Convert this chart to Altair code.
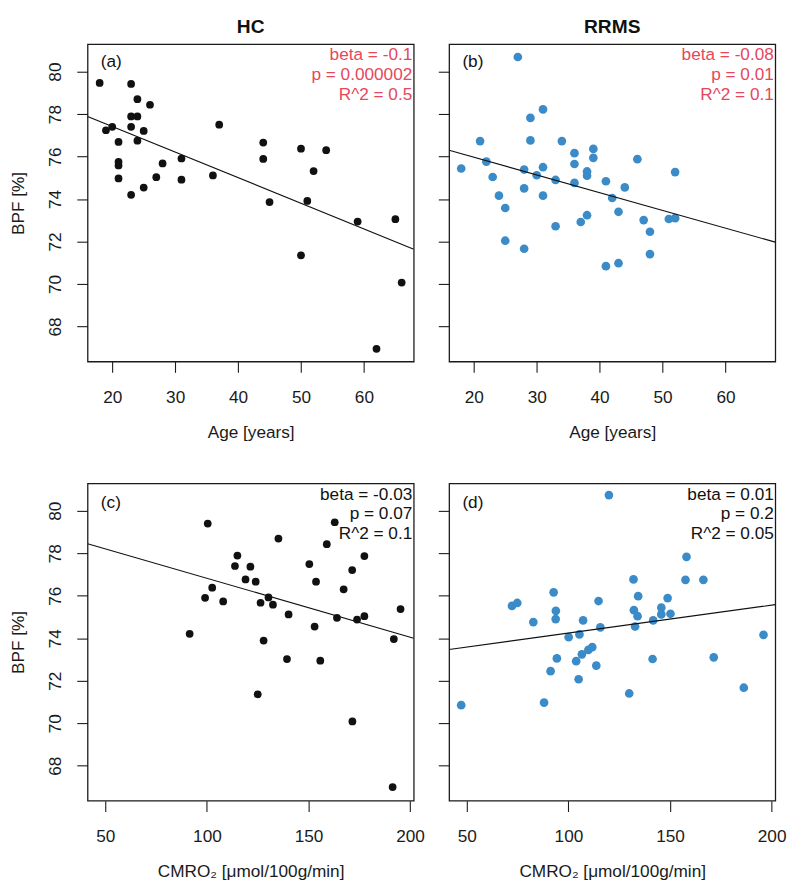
import altair as alt
import pandas as pd

FONT = "Liberation Sans, Arial, DejaVu Sans, sans-serif"

# ---------------- data ----------------
# (a) HC: Age vs BPF
hc_age = [18, 23, 24, 26, 23, 24, 23, 19, 20, 25, 24, 21, 37, 21, 21, 28, 31, 21, 27, 31,
          36, 25, 23, 44, 44, 50, 54, 52, 45, 51, 59, 50, 62, 65, 66]
hc_bpf_a = [79.47, 79.42, 78.70, 78.44, 77.89, 77.89, 77.40, 77.24, 77.40, 77.21, 76.75, 76.69,
            77.50, 75.75, 75.58, 75.68, 75.91, 74.97, 75.03, 74.91, 75.11, 74.54, 74.20, 76.66,
            75.89, 76.37, 76.30, 75.32, 73.86, 73.91, 72.94, 71.35, 66.95, 73.05, 70.07]

# (b) RRMS: Age vs BPF
rr_age = [27, 31, 29, 21, 29, 34, 36, 39, 39, 36, 18, 22, 31, 28, 30, 38, 38, 23, 33, 36, 41,
          28, 24, 31, 25, 38, 37, 33, 25, 28, 41, 42, 44, 43, 46, 52, 47, 48, 51, 52, 48, 43]
rr_bpf_b = [80.69, 78.22, 77.82, 76.73, 76.76, 76.73, 76.16, 76.36, 75.94, 75.65, 75.44, 75.76,
            75.50, 75.39, 75.12, 75.30, 75.10, 75.04, 74.90, 74.76, 74.84, 74.50, 74.16, 74.16,
            73.58, 73.24, 72.92, 72.72, 72.04, 71.66, 70.84, 74.05, 74.55, 73.40, 75.88, 75.27,
            73.01, 72.46, 73.06, 73.10, 71.41, 70.98]

# (c) HC: CMRO2 vs BPF
hc_cmro2 = [100.4, 115.0, 113.8, 102.6, 99.1, 108.0, 91.5, 121.4, 135.2, 119.0, 124.0, 130.3,
            126.4, 132.5, 140.2, 127.9, 139.4, 125.0, 150.4, 153.7, 159.0, 162.9, 153.0, 155.8,
            164.0, 167.3, 171.5, 177.5, 173.9, 177.5, 171.6, 195.3, 192.0, 191.4]
hc_bpf_c = [79.40, 77.89, 77.40, 76.38, 75.90, 75.73, 74.21, 77.37, 78.69, 76.77, 76.66, 75.92,
            75.67, 75.58, 75.12, 73.89, 73.02, 71.36, 77.49, 76.66, 78.43, 79.46, 74.55, 72.94,
            74.96, 76.30, 77.21, 77.87, 74.88, 75.04, 70.08, 75.37, 73.96, 66.99]

# (d) RRMS: CMRO2 vs BPF
rr_cmro2 = [119.9, 47.2, 72.2, 74.8, 82.7, 92.7, 93.8, 93.7, 94.3, 91.2, 88.0, 100.1, 105.4,
            107.2, 114.8, 115.7, 103.8, 105.0, 106.6, 109.8, 111.7, 113.7, 132.0, 134.3, 132.2,
            134.0, 132.8, 141.7, 145.7, 145.7, 148.8, 150.2, 158.1, 157.6, 166.4, 141.4, 129.9,
            171.5, 186.3, 196.0]
rr_bpf_d = [80.74, 70.85, 75.52, 75.66, 74.76, 76.16, 75.29, 74.90, 73.05, 72.45, 70.97, 74.05,
            74.18, 74.84, 75.75, 74.51, 72.92, 72.07, 73.24, 73.45, 73.58, 72.71, 76.77, 75.98,
            75.32, 75.04, 74.55, 74.84, 75.44, 75.12, 75.89, 75.15, 77.83, 76.75, 76.75, 73.02,
            71.40, 73.10, 71.67, 74.16]

# fitted lines (end points read at the plot edges)
fit_age_x = [16.08, 67.92]
fit_a_y = [77.89, 71.64]
fit_b_y = [76.30, 71.97]
fit_cmro2_x = [41.26, 201.8]
fit_c_y = [78.45, 74.00]
fit_d_y = [73.47, 75.58]

ann_a = ["beta = -0.1", "p = 0.000002", "R^2 = 0.5"]
ann_b = ["beta = -0.08", "p = 0.01", "R^2 = 0.1"]
ann_c = ["beta = -0.03", "p = 0.07", "R^2 = 0.1"]
ann_d = ["beta = 0.01", "p = 0.2", "R^2 = 0.05"]

age_ticks = [20, 30, 40, 50, 60]
cmro2_ticks = [50, 100, 150, 200]
bpf_ticks = [68, 70, 72, 74, 76, 78, 80]

age_domain = [16.08, 67.92]
cmro2_domain = [41.26, 201.8]
bpf_domain = [66.35, 81.29]

# ---------------- style ----------------
W, H = 332, 323
FS = 17.5
BLACK = "#111111"
BLUE = "#3a8bc7"
RED = "#e6475b"


def panel(xs, ys, color, size, xdom, xticks, xtitle, fx, fy, ann, ann_color,
          letter, letter_y, show_y_labels, title_text=None):
    df = pd.DataFrame({"x": xs, "y": ys})
    xsc = alt.Scale(domain=xdom, nice=False, zero=False)
    ysc = alt.Scale(domain=bpf_domain, nice=False, zero=False)
    xax = alt.Axis(values=xticks, title=xtitle, labelPadding=17, titlePadding=18)
    if show_y_labels:
        yax = alt.Axis(values=bpf_ticks, title="BPF [%]", labelAngle=270, labelAlign="center",
                       labelBaseline="alphabetic", labelPadding=16.5, titlePadding=20)
    else:
        yax = alt.Axis(values=bpf_ticks, title=None, labels=False)

    pts = alt.Chart(df).mark_circle(size=size, opacity=1, color=color).encode(
        x=alt.X("x:Q", scale=xsc, axis=xax),
        y=alt.Y("y:Q", scale=ysc, axis=yax),
    )
    fdf = pd.DataFrame({"x": fx, "y": fy})
    line = alt.Chart(fdf).mark_line(color=BLACK, strokeWidth=1.2, clip=True).encode(
        x=alt.X("x:Q", scale=xsc), y=alt.Y("y:Q", scale=ysc)
    )
    adf = pd.DataFrame({"t": ["\n".join(ann)]})
    txt = alt.Chart(adf).mark_text(
        align="right", baseline="top", fontSize=FS, font=FONT, color=ann_color,
        lineBreak="\n", lineHeight=20
    ).encode(x=alt.value(W - 1.5), y=alt.value(2.5), text="t:N")
    ldf = pd.DataFrame({"t": [letter]})
    lab = alt.Chart(ldf).mark_text(
        align="left", baseline="alphabetic", fontSize=FS, font=FONT, color=BLACK
    ).encode(x=alt.value(13.5), y=alt.value(letter_y), text="t:N")
    ch = alt.layer(pts, line, txt, lab).properties(width=W, height=H)
    if title_text is not None:
        ch = ch.properties(title=alt.TitleParams(
            title_text, fontSize=19.5, fontWeight="bold", font=FONT, color=BLACK,
            anchor="middle", offset=7))
    return ch


a = panel(hc_age, hc_bpf_a, BLACK, 62, age_domain, age_ticks, "Age [years]",
          fit_age_x, fit_a_y, ann_a, RED, "(a)", 23, True, "HC")
b = panel(rr_age, rr_bpf_b, BLUE, 78, age_domain, age_ticks, "Age [years]",
          fit_age_x, fit_b_y, ann_b, RED, "(b)", 23, False, "RRMS")
c = panel(hc_cmro2, hc_bpf_c, BLACK, 62, cmro2_domain, cmro2_ticks, "CMRO₂ [μmol/100g/min]",
          fit_cmro2_x, fit_c_y, ann_c, BLACK, "(c)", 25, True)
d = panel(rr_cmro2, rr_bpf_d, BLUE, 78, cmro2_domain, cmro2_ticks, "CMRO₂ [μmol/100g/min]",
          fit_cmro2_x, fit_d_y, ann_d, BLACK, "(d)", 25, False)

chart = alt.concat(
    a, b, c, d, columns=2, spacing={"row": 124, "column": 36}, bounds="flush"
).properties(
    padding={"left": 0, "top": 0, "right": 5, "bottom": 0},
    background="white",
).configure_view(
    stroke="#1a1a1a", strokeWidth=1.3
).configure_axis(
    domain=False, grid=False, tickSize=11, tickWidth=1.1, tickColor="#1a1a1a",
    labelFont=FONT, titleFont=FONT, labelFontSize=FS, titleFontSize=FS,
    labelColor="#1a1a1a", titleColor="#1a1a1a", titleFontWeight="normal",
    labelOverlap=False, labelFlush=False
)

chart.save("out.html", embed_options={"renderer": "svg", "actions": False})
